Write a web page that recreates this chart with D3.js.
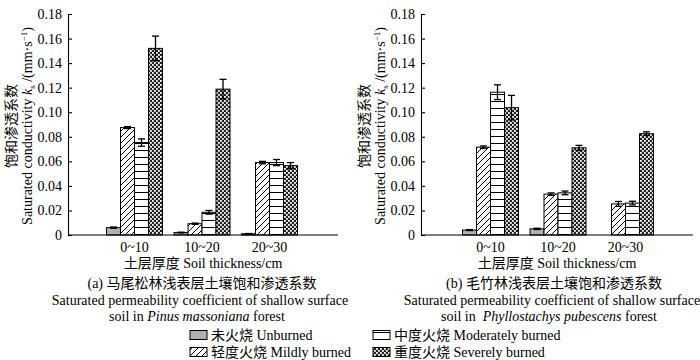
<!DOCTYPE html>
<html><head><meta charset="utf-8">
<script src="https://cdn.jsdelivr.net/npm/d3@7"></script>
<style>
body{margin:0;background:#fff;}
text{font-family:"Liberation Serif","Noto Sans CJK SC",serif;font-size:14px;fill:#000;}
</style></head><body>
<svg id="chart" width="700" height="360"></svg>
<script>
// ---- data ----
const categories = ["0~10", "10~20", "20~30"];
const treatments = ["unburned", "mild", "moderate", "severe"];
const legendLabels = ["未火烧 Unburned", "轻度火烧 Mildly burned", "中度火烧 Moderately burned", "重度火烧 Severely burned"];
const yTicks = [0, 0.02, 0.04, 0.06, 0.08, 0.10, 0.12, 0.14, 0.16, 0.18];

// (a) Pinus massoniana
const pinusUnburned = [0.006, 0.002, 0.001];
const pinusMild = [0.0875, 0.0092, 0.059];
const pinusModerate = [0.0753, 0.0185, 0.059];
const pinusSevere = [0.152, 0.1188, 0.0565];
const pinusUnburnedErr = [0.0005, 0.0003, 0.0002];
const pinusMildErr = [0.0008, 0.0005, 0.001];
const pinusModerateErr = [0.003, 0.0015, 0.0025];
const pinusSevereErr = [0.010, 0.008, 0.0025];

// (b) Phyllostachys pubescens
const phylloUnburned = [0.004, 0.005, 0];
const phylloMild = [0.0715, 0.0333, 0.0253];
const phylloModerate = [0.1163, 0.0343, 0.026];
const phylloSevere = [0.1037, 0.071, 0.0825];
const phylloUnburnedErr = [0.0004, 0.0005, 0];
const phylloMildErr = [0.001, 0.001, 0.002];
const phylloModerateErr = [0.006, 0.0015, 0.0015];
const phylloSevereErr = [0.010, 0.002, 0.0015];

// ---- drawing ----
const svg = d3.select("#chart");
const defs = svg.append("defs");

// patterns
const pDiag = defs.append("pattern").attr("id", "pat-mild").attr("patternUnits", "userSpaceOnUse")
  .attr("width", 6).attr("height", 6);
pDiag.append("rect").attr("width", 6).attr("height", 6).attr("fill", "#fff");
pDiag.append("path").attr("d", "M-1,1 l2,-2 M0,6 l6,-6 M5,7 l2,-2").attr("stroke", "#000").attr("stroke-width", 1);

const pHor = defs.append("pattern").attr("id", "pat-moderate").attr("patternUnits", "userSpaceOnUse")
  .attr("width", 6).attr("height", 7);
pHor.append("rect").attr("width", 6).attr("height", 7).attr("fill", "#fff");
pHor.append("rect").attr("x", 0).attr("y", 3).attr("width", 6).attr("height", 1).attr("fill", "#000");

const pDot = defs.append("pattern").attr("id", "pat-severe").attr("patternUnits", "userSpaceOnUse")
  .attr("width", 4).attr("height", 4);
pDot.append("rect").attr("width", 4).attr("height", 4).attr("fill", "#222");
pDot.append("rect").attr("x", 0).attr("y", 0).attr("width", 1.8).attr("height", 1.8).attr("fill", "#fff");
pDot.append("rect").attr("x", 2).attr("y", 2).attr("width", 1.8).attr("height", 1.8).attr("fill", "#fff");

const fills = {
  unburned: "#b0b0b0",
  mild: "url(#pat-mild)",
  moderate: "url(#pat-moderate)",
  severe: "url(#pat-severe)"
};

const panels = [
  {
    axisX: 68, axisEnd: 338, firstOffset: 66.5,
    values: [pinusUnburned, pinusMild, pinusModerate, pinusSevere],
    errors: [pinusUnburnedErr, pinusMildErr, pinusModerateErr, pinusSevereErr],
    center: 200,
    caption1: "(a) 马尾松林浅表层土壤饱和渗透系数",
    caption2: "Saturated permeability coefficient of shallow surface",
    caption3: ["soil in ", "Pinus massoniana", " forest"],
    cap3center: 197
  },
  {
    axisX: 421, axisEnd: 693, firstOffset: 69.5,
    values: [phylloUnburned, phylloMild, phylloModerate, phylloSevere],
    errors: [phylloUnburnedErr, phylloMildErr, phylloModerateErr, phylloSevereErr],
    center: 552,
    caption1: "(b) 毛竹林浅表层土壤饱和渗透系数",
    caption2: "Saturated permeability coefficient of shallow surface",
    caption3: ["soil in\u00a0\u00a0", "Phyllostachys pubescens", " forest"],
    cap3center: 549
  }
];

const y = d3.scaleLinear().domain([0, 0.18]).range([235, 14]);
const step = 67.5;
const groupWidth = 56;

panels.forEach(p => {
  const g = svg.append("g");
  const x = d3.scalePoint().domain(categories)
    .range([p.axisX + p.firstOffset, p.axisX + p.firstOffset + step * (categories.length - 1)]);
  const inner = d3.scaleBand().domain(treatments).range([-groupWidth / 2, groupWidth / 2]).padding(0);

  // bars
  treatments.forEach((t, ti) => {
    categories.forEach((c, ci) => {
      const v = p.values[ti][ci];
      if (v <= 0) return;
      const bx = x(c) + inner(t);
      g.append("rect")
        .attr("x", bx).attr("y", y(v))
        .attr("width", inner.bandwidth()).attr("height", y(0) - y(v))
        .attr("fill", fills[t]).attr("stroke", "#000").attr("stroke-width", 1);
    });
  });
  // error bars
  treatments.forEach((t, ti) => {
    categories.forEach((c, ci) => {
      const v = p.values[ti][ci], e = p.errors[ti][ci];
      if (v <= 0 || e <= 0) return;
      const cx = x(c) + inner(t) + inner.bandwidth() / 2;
      const eg = g.append("g").attr("stroke", "#000").attr("stroke-width", 1.3);
      eg.append("line").attr("x1", cx).attr("x2", cx).attr("y1", y(v + e)).attr("y2", y(v - e));
      eg.append("line").attr("x1", cx - 3.5).attr("x2", cx + 3.5).attr("y1", y(v + e)).attr("y2", y(v + e));
      eg.append("line").attr("x1", cx - 3.5).attr("x2", cx + 3.5).attr("y1", y(v - e)).attr("y2", y(v - e));
    });
  });

  // y axis
  const yAxis = d3.axisLeft(y).tickValues(yTicks)
    .tickFormat(d => d === 0 ? "0" : d3.format(".2f")(d))
    .tickSizeInner(-4).tickSizeOuter(0).tickPadding(6);
  const ya = g.append("g").attr("transform", `translate(${p.axisX},0)`).call(yAxis);
  ya.selectAll("text").style("font-family", "'Liberation Serif', serif").style("font-size", "14px");
  ya.selectAll("path,line").attr("stroke", "#000").attr("stroke-width", 1.1);

  // x axis line
  g.append("line").attr("x1", p.axisX).attr("x2", p.axisEnd).attr("y1", y(0)).attr("y2", y(0))
    .attr("stroke", "#000").attr("stroke-width", 1.1);
  // x tick labels
  categories.forEach(c => {
    g.append("text").attr("x", x(c)).attr("y", 252).attr("text-anchor", "middle").text(c);
  });
  const axisMid = (p.axisX + p.axisEnd) / 2;
  g.append("text").attr("x", axisMid).attr("y", 268).attr("text-anchor", "middle").text("土层厚度 Soil thickness/cm");

  // y titles
  const yMid = 126;
  g.append("text").attr("transform", `translate(${p.axisX - 52},${yMid}) rotate(-90)`)
    .attr("text-anchor", "middle").text("饱和渗透系数");
  const yt = g.append("text").attr("transform", `translate(${p.axisX - 36},${yMid}) rotate(-90)`)
    .attr("text-anchor", "middle");
  yt.append("tspan").text("Saturated conductivity ");
  yt.append("tspan").attr("font-style", "italic").text("k");
  yt.append("tspan").attr("dy", 3).style("font-size", "9px").text("s");
  yt.append("tspan").attr("dy", -3).text(" /(mm·s");
  yt.append("tspan").attr("dy", -5).style("font-size", "9px").text("−1");
  yt.append("tspan").attr("dy", 5).text(")");

  // captions
  g.append("text").attr("x", p.center + 2).attr("y", 288).attr("text-anchor", "middle").text(p.caption1);
  g.append("text").attr("x", p.center).attr("y", 305).attr("text-anchor", "middle").text(p.caption2);
  const c3 = g.append("text").attr("x", p.cap3center).attr("y", 321).attr("text-anchor", "middle");
  c3.append("tspan").text(p.caption3[0]);
  c3.append("tspan").attr("font-style", "italic").text(p.caption3[1]);
  c3.append("tspan").text(p.caption3[2]);
});

// legend
const legendPos = [[190, 335], [190, 352], [373, 335], [373, 352]];
const legendKeys = ["unburned", "mild", "moderate", "severe"];
const lg = svg.append("g");
legendKeys.forEach((k, i) => {
  const [lx, ly] = legendPos[i];
  lg.append("rect").attr("x", lx).attr("y", ly - 4.5).attr("width", 17).attr("height", 9)
    .attr("fill", fills[k]).attr("stroke", "#000").attr("stroke-width", 1);
  lg.append("text").attr("x", lx + 21).attr("y", ly + 5).text(legendLabels[i]);
});
</script>
</body></html>
